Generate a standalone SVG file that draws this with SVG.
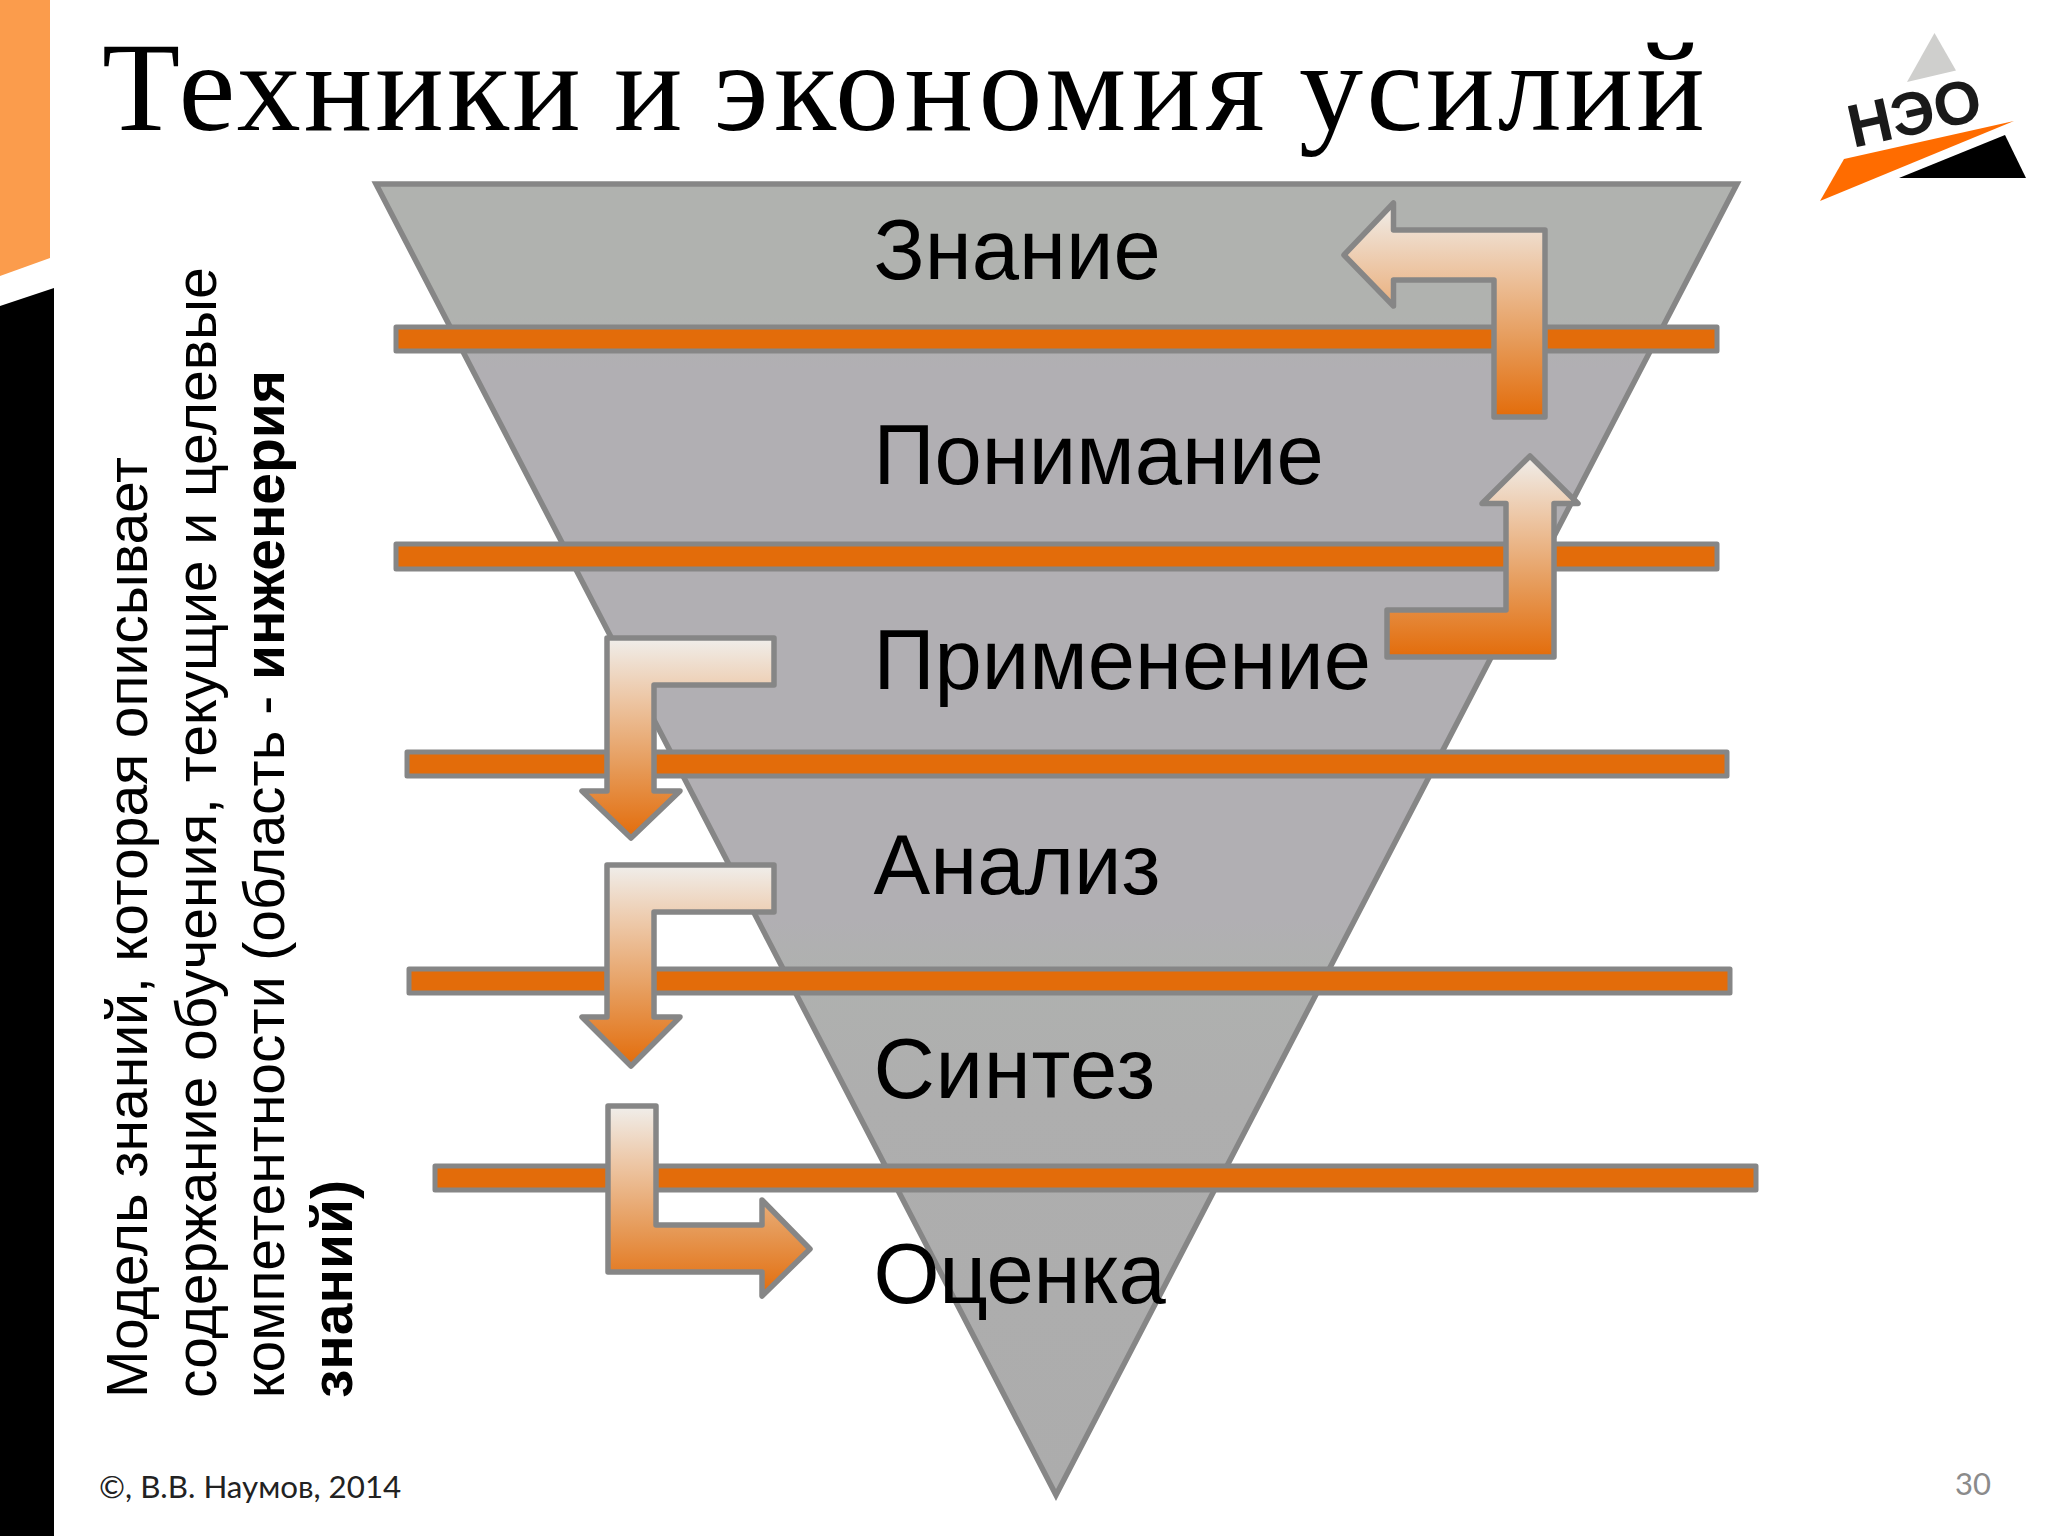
<svg xmlns="http://www.w3.org/2000/svg" width="2048" height="1536" viewBox="0 0 2048 1536">
<style>
.bar{fill:#e36c0a;stroke:#868686;stroke-width:5;stroke-linejoin:round}
.arrow{fill:url(#ag);stroke:#868686;stroke-width:5.5;stroke-linejoin:round}
.lab{font-family:"Liberation Sans",Arial,sans-serif;font-size:85px;fill:#000}
.side{font-family:"Liberation Sans",Arial,sans-serif;font-size:57px;fill:#000}
.b{font-weight:bold}
</style>
<defs>
<linearGradient id="ag" x1="0" y1="0" x2="0" y2="1"><stop offset="0" stop-color="#f0eeeb"/><stop offset="0.3" stop-color="#edc7a6"/><stop offset="0.65" stop-color="#e69a58"/><stop offset="1" stop-color="#e36c0a"/></linearGradient>
<linearGradient id="tg" x1="0" y1="0" x2="0" y2="1"><stop offset="0" stop-color="#b0b2af"/><stop offset="0.1" stop-color="#b0b2af"/><stop offset="0.14" stop-color="#b1afb3"/><stop offset="0.56" stop-color="#b1afb3"/><stop offset="0.6" stop-color="#afb1af"/><stop offset="0.7" stop-color="#aeaeae"/><stop offset="1" stop-color="#acacac"/></linearGradient>
</defs>
<rect width="2048" height="1536" fill="#fff"/>
<g id="side-band">
<polygon points="0,0 50,0 50,258 0,276" fill="#fb9c4c"/>
<polygon points="0,306 54,288 54,1536 0,1536" fill="#000"/>
</g>
<g id="title"><text x="102" y="130" font-family="'Liberation Serif','Times New Roman',serif" font-size="128" letter-spacing="3.1" fill="#000">Техники <tspan dx="-5">и</tspan> <tspan dx="-7" letter-spacing="5.4">экономия</tspan> <tspan dx="-6">усилий</tspan></text></g>
<g id="logo">
<polygon points="1934.5,33 1956,70.5 1907,82" fill="#cfcfcd"/>
<polygon points="2014,121 1844,159 1820,201" fill="#ff6c00"/>
<polygon points="2005,135 2026,178 1899,178" fill="#000"/>
<text transform="translate(1853,148) rotate(-12.5)" font-family="'Liberation Sans',Arial,sans-serif" font-weight="bold" font-size="61" fill="#1a1a1a">НЭО</text>
</g>
<g id="pyramid"><polygon points="376,184 1737,184 1056,1495" fill="url(#tg)" stroke="#868686" stroke-width="5.5"/></g>
<g id="bars">
<rect class="bar" x="396" y="327" width="1321" height="24"/>
<rect class="bar" x="396" y="544" width="1321" height="25"/>
<rect class="bar" x="407" y="752" width="1320" height="24"/>
<rect class="bar" x="409" y="969" width="1321" height="24"/>
<rect class="bar" x="435" y="1166" width="1321" height="24"/>
</g>
<g id="node-znanie"><text class="lab" x="873.5" y="279">Знание</text></g>
<g id="node-ponimanie"><text class="lab" x="873.5" y="484">Понимание</text></g>
<g id="node-primenenie"><text class="lab" x="873.5" y="689">Применение</text></g>
<g id="node-analiz"><text class="lab" x="873.5" y="894">Анализ</text></g>
<g id="node-sintez"><text class="lab" x="873.5" y="1098" letter-spacing="0.7">Синтез</text></g>
<g id="node-otsenka"><text class="lab" x="873.5" y="1303" letter-spacing="-0.4">Оценка</text></g>
<g id="connectors">
<polygon class="arrow" points="1344,255 1393.5,203 1393.5,230 1545,230 1545,417 1494,417 1494,280 1393.5,280 1393.5,306"/>
<polygon class="arrow" points="1530,456 1578,503.5 1554,503.5 1554,657 1387,657 1387,610 1506,610 1506,503.5 1482,503.5"/>
<polygon class="arrow" points="607,638 774,638 774,685 654,685 654,791 680,791 631,838 582,791 607,791"/>
<polygon class="arrow" points="607,865 774,865 774,912 654,912 654,1017 680,1017 631,1066 582,1017 607,1017"/>
<polygon class="arrow" points="608,1106 656,1106 656,1225 762,1225 762,1200 810,1249 762,1296 762,1272 608,1272"/>
</g>
<g id="side-text">
<text class="side" transform="translate(147,1398) rotate(-90)">Модель знаний, которая описывает</text>
<text class="side" transform="translate(216,1398) rotate(-90)">содержание обучения, текущие и целевые</text>
<text class="side" transform="translate(284,1398) rotate(-90)">компетентности (область - <tspan class="b">инженерия</tspan></text>
<text class="side b" transform="translate(352,1398) rotate(-90)">знаний)</text>
</g>
<g id="footer">
<text x="99" y="1498" font-family="Lato,'Open Sans',sans-serif" font-size="31.3" fill="#222">©, В.В. Наумов, 2014</text>
<text x="1955" y="1495" font-family="Lato,'Open Sans',sans-serif" font-size="31" fill="#8b8b8b">30</text>
</g>
</svg>
